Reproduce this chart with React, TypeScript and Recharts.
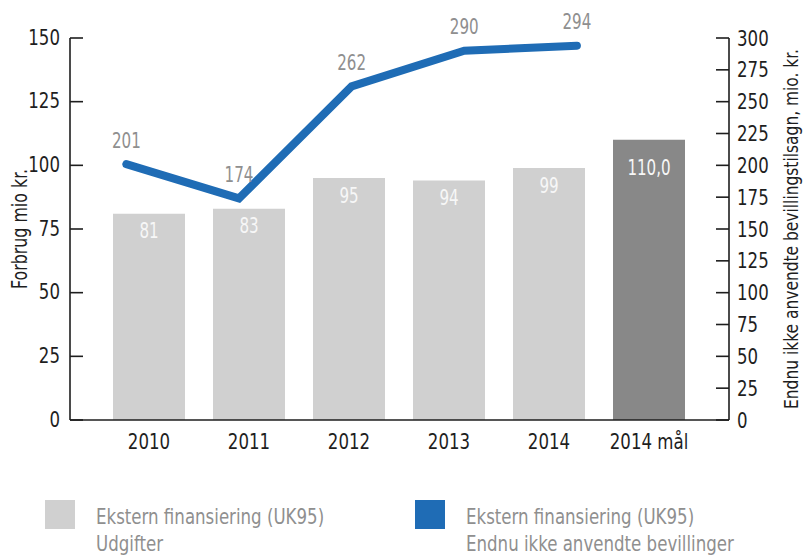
import React from 'react';
import { ComposedChart, Bar, Line, XAxis, YAxis, LabelList, Label } from 'recharts';

const categories = ['2010', '2011', '2012', '2013', '2014', '2014 mål'];
const udgifter: (number | null)[] = [81, 83, 95, 94, 99, null];
const maal: (number | null)[] = [null, null, null, null, null, 110];
const bevillinger: (number | null)[] = [201, 174, 262, 290, 294, null];
const leftTicks = [0, 25, 50, 75, 100, 125, 150];
const rightTicks = [0, 25, 50, 75, 100, 125, 150, 175, 200, 225, 250, 275, 300];
const legendItems = [
  { color: '#d0d0d0', line1: 'Ekstern finansiering (UK95)', line2: 'Udgifter' },
  { color: '#1f6cb5', line1: 'Ekstern finansiering (UK95)', line2: 'Endnu ikke anvendte bevillinger' },
];

const data = categories.map((c, i) => ({
  year: c,
  idx: i,
  udgifter: udgifter[i],
  maal: maal[i],
  bevillinger: bevillinger[i],
}));

const FONT = "'DejaVu Sans Condensed', 'DejaVu Sans', sans-serif";
const AXIS = '#1e1e1e';

type CTProps = {
  x: number;
  y: number;
  s?: number;
  anchor?: 'start' | 'middle' | 'end';
  fill?: string;
  size?: number;
  rotate?: number;
  children: React.ReactNode;
};

const CText = ({ x, y, s = 0.84, anchor = 'middle', fill = '#1e1e1e', size = 22, rotate = 0, children }: CTProps) => (
  <text
    x={0}
    y={0}
    transform={`translate(${x},${y}) rotate(${rotate}) scale(${s},1)`}
    textAnchor={anchor}
    dominantBaseline="central"
    fill={fill}
    fontSize={size}
    fontFamily={FONT}
    fontStretch="condensed"
  >
    {children}
  </text>
);

const LeftTick = (props: any) => {
  const { x, y, payload } = props;
  return (
    <g>
      <line x1={x} x2={x + 13} y1={y} y2={y} stroke={AXIS} strokeWidth={1.6} />
      <CText x={x - 10} y={y - 1} anchor="end">{payload.value}</CText>
    </g>
  );
};

const RightTick = (props: any) => {
  const { x, y, payload } = props;
  return (
    <g>
      <line x1={x - 13} x2={x} y1={y} y2={y} stroke={AXIS} strokeWidth={1.6} />
      <CText x={x + 8} y={y} anchor="start">{payload.value}</CText>
    </g>
  );
};

const BottomTick = (props: any) => {
  const { x, y, payload } = props;
  return <CText x={x} y={y + 21}>{payload.value}</CText>;
};

const VLabel = (text: string, dxFromLeft: number, s: number, size: number) => (props: any) => {
  const vb = props.viewBox || {};
  const cx = vb.x + dxFromLeft;
  const cy = vb.y + vb.height / 2;
  return (
    <CText x={cx} y={cy} rotate={-90} s={s} size={size}>
      {text}
    </CText>
  );
};

const barLabel = (dy: number, fmt: (v: number) => string) => (props: any) => {
  const { value } = props;
  if (value == null) return null;
  const vb = props.viewBox || props;
  const x = (vb.x ?? props.x) + (vb.width ?? props.width ?? 0) / 2;
  const y = vb.y ?? props.y;
  return (
    <CText x={x} y={y + dy} fill="#f7f7f7" size={21} s={0.8}>
      {fmt(Number(value))}
    </CText>
  );
};

const lineLabel = (props: any) => {
  const { value } = props;
  if (value == null) return null;
  const vb = props.viewBox || props;
  const x = (vb.x ?? props.x) + (vb.width ?? 0) / 2;
  const y = vb.y ?? props.y;
  return (
    <CText x={x} y={y - 24} fill="#8f8f8f" size={21} s={0.8}>
      {value}
    </CText>
  );
};

export default function App() {
  return (
    <div style={{ position: 'absolute', left: 0, top: 0, width: 803, height: 556, background: '#fff' }}>
      <ComposedChart width={803} height={470} data={data} margin={{ top: 38, right: 0, bottom: 10, left: 0 }}>
        <XAxis
          xAxisId="cat"
          dataKey="year"
          padding={{ left: 29, right: 30 }}
          axisLine={{ stroke: AXIS, strokeWidth: 1.6 }}
          tickLine={false}
          tickSize={0}
          tickMargin={0}
          height={40}
          tick={<BottomTick />}
          interval={0}
        />
        <XAxis xAxisId="line" dataKey="idx" type="number" domain={[-0.5, 5.35]} hide allowDataOverflow />
        <YAxis
          yAxisId="left"
          orientation="left"
          width={70}
          domain={[0, 150]}
          ticks={leftTicks}
          interval={0}
          axisLine={{ stroke: AXIS, strokeWidth: 1.6 }}
          tickLine={false}
          tickSize={0}
          tickMargin={0}
          tick={<LeftTick />}
        >
          <Label content={VLabel('Forbrug mio kr.', 20, 0.84, 21)} />
        </YAxis>
        <YAxis
          yAxisId="right"
          orientation="right"
          width={74}
          domain={[0, 300]}
          ticks={rightTicks}
          interval={0}
          axisLine={{ stroke: AXIS, strokeWidth: 1.6 }}
          tickLine={false}
          tickSize={0}
          tickMargin={0}
          tick={<RightTick />}
        >
          <Label content={VLabel('Endnu ikke anvendte bevillingstilsagn, mio. kr.', 62, 0.86, 20)} />
        </YAxis>
        <Bar xAxisId="cat" yAxisId="left" dataKey="udgifter" stackId="s" fill="#d0d0d0" barSize={72} isAnimationActive={false}>
          <LabelList dataKey="udgifter" content={barLabel(17, (v) => String(v))} />
        </Bar>
        <Bar xAxisId="cat" yAxisId="left" dataKey="maal" stackId="s" fill="#888888" barSize={72} isAnimationActive={false}>
          <LabelList dataKey="maal" content={barLabel(27, (v) => v.toFixed(1).replace('.', ','))} />
        </Bar>
        <Line
          xAxisId="line"
          yAxisId="right"
          dataKey="bevillinger"
          type="linear"
          stroke="#1f6cb5"
          strokeWidth={8}
          strokeLinecap="round"
          dot={false}
          activeDot={false}
          isAnimationActive={false}
        >
          <LabelList dataKey="bevillinger" content={lineLabel} />
        </Line>
      </ComposedChart>
      {legendItems.map((it, i) => (
        <div key={i} style={{ position: 'absolute', left: i === 0 ? 45 : 415, top: 500 }}>
          <div style={{ position: 'absolute', left: 0, top: 0, width: 30, height: 29, background: it.color }} />
          <div
            style={{
              position: 'absolute',
              left: 51,
              top: 3,
              whiteSpace: 'nowrap',
              color: '#8f8f8f',
              fontFamily: FONT,
              fontStretch: 'condensed',
              fontSize: 22,
              lineHeight: '27px',
              transform: 'scaleX(0.84)',
              transformOrigin: 'left top',
            }}
          >
            <div>{it.line1}</div>
            <div>{it.line2}</div>
          </div>
        </div>
      ))}
    </div>
  );
}
